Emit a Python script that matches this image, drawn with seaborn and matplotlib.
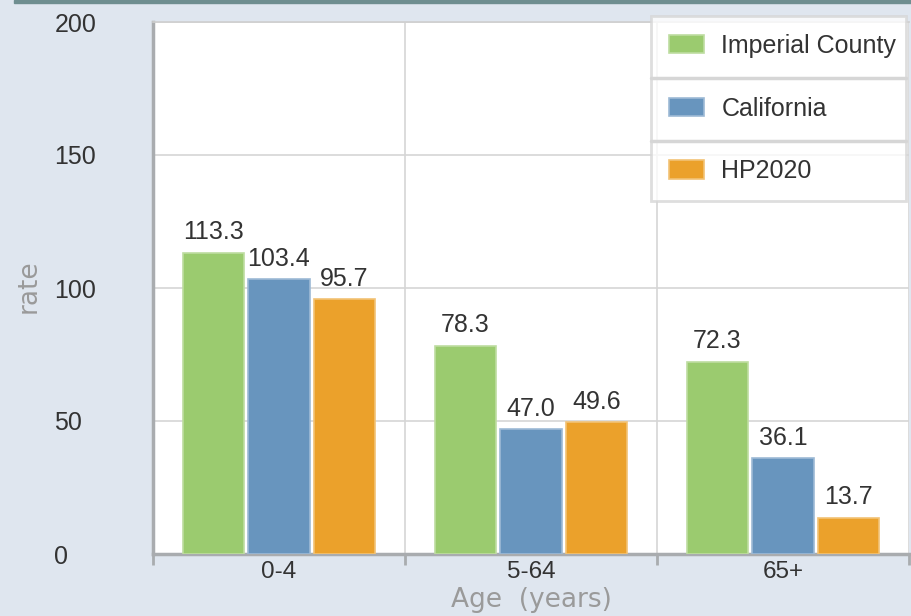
import numpy as np
import pandas as pd
import matplotlib
matplotlib.use("Agg")
import matplotlib.pyplot as plt
import matplotlib.colors as mcolors
from matplotlib.lines import Line2D
from matplotlib.patches import Rectangle
import seaborn as sns

# values
ages = ["0-4", "5-64", "65+"]
imperial = [113.3, 78.3, 72.3]
california = [103.4, 47.0, 36.1]
hp2020 = [95.7, 49.6, 13.7]
series = ["Imperial County", "California", "HP2020"]
yticks = [0, 50, 100, 150, 200]

colors = ["#9BCB6F", "#6895BE", "#EBA12B"]
bg = "#DFE6EF"

df = pd.DataFrame({
    "age": ages * 3,
    "rate": imperial + california + hp2020,
    "area": [s for s in series for _ in ages],
})

sns.set_style("white")
plt.rcParams["font.family"] = ["Liberation Sans", "DejaVu Sans"]

fig = plt.figure(figsize=(9.12, 6.16), dpi=100, facecolor=bg)
ax = fig.add_axes([153 / 912, 62 / 616, 756 / 912, 532 / 616])
ax.set_facecolor("white")

sns.barplot(data=df, x="age", y="rate", hue="area", palette=colors,
            saturation=1, width=0.78, gap=0.06, ax=ax, legend=True, zorder=3)

# lighter edge round each bar
for p in ax.patches:
    c = np.array(mcolors.to_rgb(p.get_facecolor()))
    p.set_edgecolor(c + (1 - c) * 0.35)
    p.set_linewidth(1.2)

for cont in ax.containers:
    ax.bar_label(cont, fmt="%.1f", padding=6, fontsize=18, color="#333333")

ax.set_ylim(0, 200)
ax.set_xlim(-0.5, 2.5)
ax.set_yticks(yticks)
ax.set_xticks(range(len(ages)))
ax.set_xticklabels(ages)
ax.set_xticks([-0.5, 0.5, 1.5, 2.5], minor=True)

ax.grid(axis="y", color="#D5D5D5", linewidth=1.2, zorder=0)
ax.grid(axis="x", which="minor", color="#D5D5D5", linewidth=1.2, zorder=0)
ax.set_axisbelow(True)

ax.spines["right"].set_visible(False)
ax.spines["top"].set_color("#CFCFCF")
ax.spines["top"].set_linewidth(1.2)
for side in ["left", "bottom"]:
    ax.spines[side].set_color("#A9ACAF")
    ax.spines[side].set_linewidth(2.5)

ax.tick_params(axis="y", which="major", length=9, width=2, color="#A9ACAF",
               labelsize=18, labelcolor="#333333", pad=62)
for t in ax.get_yticklabels():
    t.set_horizontalalignment("left")
ax.tick_params(axis="x", which="major", length=0, labelsize=17.5,
               labelcolor="#333333", pad=5)
ax.tick_params(axis="x", which="minor", length=8, width=2, color="#A9ACAF",
               bottom=True)

ax.set_ylabel("rate", fontsize=19, color="#9A9A9A", family="DejaVu Sans")
ax.yaxis.set_label_coords(-0.147, 0.504)
ax.set_xlabel("Age  (years)", fontsize=19, color="#9A9A9A",
              family="DejaVu Sans", labelpad=3)

handles, labels = ax.get_legend_handles_labels()
leg = ax.legend(handles, labels, loc="upper left", mode="expand",
                bbox_to_anchor=(651 / 912, 1 - 22 / 616, 255 / 912, 0.01),
                bbox_transform=fig.transFigure, fontsize=18,
                frameon=True, fancybox=False, edgecolor="#D6D6D6",
                handlelength=1.4, handleheight=0.76, handletextpad=0.7,
                labelspacing=1.55, borderpad=0.72, borderaxespad=0)
leg.get_frame().set_linewidth(2)
for txt in leg.get_texts():
    txt.set_color("#333333")
leg.set_zorder(10)

# separators between the legend entries
for yy in [78, 141]:
    fig.add_artist(Line2D([651 / 912, 906 / 912], [1 - yy / 616, 1 - yy / 616],
                          color="#D6D6D6", linewidth=2.5, zorder=11))

# dark band across the top
fig.add_artist(Rectangle((14 / 912, 1 - 3 / 616), 1, 3 / 616,
                         color="#6F8E90", zorder=12))

fig.savefig("out.png", dpi=100, facecolor=bg)
